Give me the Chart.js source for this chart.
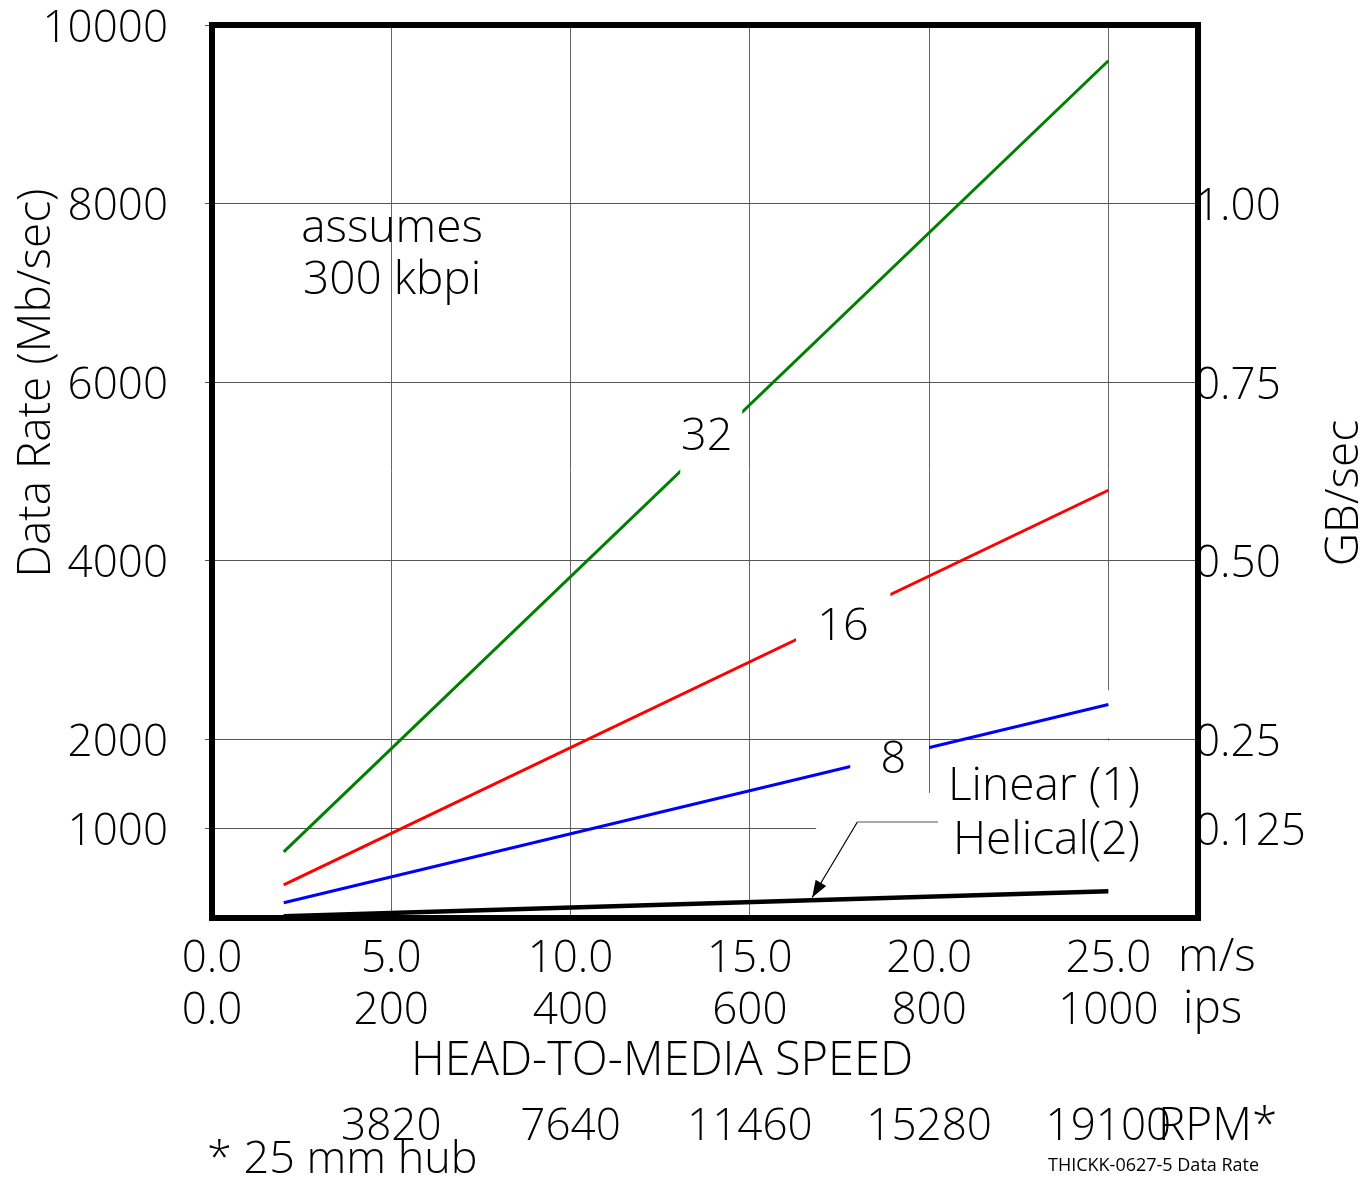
<!DOCTYPE html>
<html>
<head>
<meta charset="utf-8">
<script src="https://cdn.jsdelivr.net/npm/chart.js@4/dist/chart.umd.min.js"></script>
<style>
  body { margin: 0; background: #fff; }
  canvas { display: block; }
</style>
</head>
<body>
<canvas id="rateChart" width="1372" height="1183"></canvas>
<script>
// head-to-media speed (m/s) at start and end of each line
const speedMs = [2.0, 25.0];
const tracks32 = [740, 9600];
const tracks16 = [370, 4790];
const tracks8 = [170, 2390];
const helical = [20, 300];

const xTicks = [0, 5, 10, 15, 20, 25];
const msLabels = ["0.0", "5.0", "10.0", "15.0", "20.0", "25.0"];
const ipsLabels = ["0.0", "200", "400", "600", "800", "1000"];
const rpmLabels = ["", "3820", "7640", "11460", "15280", "19100"];
const leftTicks = [1000, 2000, 4000, 6000, 8000, 10000];
const rightTicks = [1000, 2000, 4000, 6000, 8000];
const gbLabels = ["0.125", "0.25", "0.50", "0.75", "1.00"];

// track-count labels sitting in a gap of their line
const lineLabels = [
  { text: "32", x: 13.8, y: 5380 },
  { text: "16", x: 17.6, y: 3260 },
  { text: "8", x: 19.0, y: 1770 }
];
const lineGaps = [[13.06, 14.79], [16.29, 18.92], [17.8, 20.0], null];

const FONT = '"Open Sans", "Noto Sans", sans-serif';
const font = (size) => "300 " + size + "px " + FONT;

const pts = (ys) => speedMs.map((x, i) => ({ x: x, y: ys[i] }));

const series = [
  { data: pts(tracks32), borderColor: "#008000", borderWidth: 3 },
  { data: pts(tracks16), borderColor: "#ff0000", borderWidth: 3 },
  { data: pts(tracks8), borderColor: "#0000ff", borderWidth: 3 },
  { data: pts(helical), borderColor: "#000000", borderWidth: 4.5 }
];

const extras = {
  id: "extras",
  beforeDatasetsDraw(chart) {
    const { ctx, chartArea: a, scales } = chart;
    const x = scales.x, y = scales.y;
    // grid lines hidden behind the legend text area
    ctx.save();
    ctx.fillStyle = "#fff";
    const gx = x.getPixelForValue(16.85), gy = y.getPixelForValue(1400);
    ctx.fillRect(gx, gy, a.right - gx, a.bottom - gy);
    const x25 = x.getPixelForValue(25);
    const y2k = y.getPixelForValue(2000), y25 = y.getPixelForValue(2550);
    ctx.fillRect(x25 - 3, y25, 6, y2k - 1 - y25);
    ctx.fillRect(x25 - 3, y2k + 1, 6, gy - y2k - 1);
    ctx.restore();
  },
  beforeDatasetDraw(chart, args) {
    const gap = lineGaps[args.index];
    if (!gap) return;
    const { ctx, chartArea: a, scales } = chart;
    const x0 = scales.x.getPixelForValue(gap[0]), x1 = scales.x.getPixelForValue(gap[1]);
    ctx.save();
    ctx.beginPath();
    ctx.rect(0, 0, chart.width, chart.height);
    ctx.rect(x0, a.top, x1 - x0, a.bottom - a.top);
    ctx.clip("evenodd");
  },
  afterDatasetDraw(chart, args) {
    if (lineGaps[args.index]) chart.ctx.restore();
  },
  afterDatasetsDraw(chart) {
    const { ctx, chartArea: a, scales } = chart;
    const x = scales.x, y = scales.y;
    ctx.save();
    ctx.strokeStyle = "#000";
    ctx.lineWidth = 6;
    ctx.strokeRect(a.left, a.top, a.right - a.left, a.bottom - a.top);

    // arrow pointing at the helical line
    const p0 = [x.getPixelForValue(20.25), y.getPixelForValue(1075)];
    const p1 = [x.getPixelForValue(18.0), y.getPixelForValue(1075)];
    const p2 = [x.getPixelForValue(16.74), y.getPixelForValue(230)];
    ctx.lineWidth = 1.2;
    ctx.strokeStyle = "#555";
    ctx.beginPath();
    ctx.moveTo(p0[0], p0[1]);
    ctx.lineTo(p1[0], p1[1]);
    ctx.stroke();
    ctx.strokeStyle = "#000";
    ctx.beginPath();
    ctx.moveTo(p1[0], p1[1]);
    ctx.lineTo(p2[0], p2[1]);
    ctx.stroke();
    const ang = Math.atan2(p2[1] - p1[1], p2[0] - p1[0]);
    ctx.fillStyle = "#000";
    ctx.beginPath();
    ctx.moveTo(p2[0], p2[1]);
    ctx.lineTo(p2[0] - 18 * Math.cos(ang - 0.35), p2[1] - 18 * Math.sin(ang - 0.35));
    ctx.lineTo(p2[0] - 18 * Math.cos(ang + 0.35), p2[1] - 18 * Math.sin(ang + 0.35));
    ctx.closePath();
    ctx.fill();
    ctx.restore();
  },
  afterDraw(chart) {
    const { ctx, scales } = chart;
    const x = scales.x, y = scales.y;
    ctx.save();
    ctx.fillStyle = "#000";
    ctx.textBaseline = "middle";
    ctx.textAlign = "center";
    ctx.font = font(45);
    lineLabels.forEach(l => ctx.fillText(l.text, x.getPixelForValue(l.x), y.getPixelForValue(l.y)));
    ctx.font = font(46);
    ctx.fillText("assumes", 392, 229);
    ctx.fillText("300 kbpi", 392, 281);
    ctx.font = font(47);
    ctx.fillText("HEAD-TO-MEDIA SPEED", 662, 1062);
    ctx.font = font(44);
    xTicks.forEach((v, i) => {
      if (rpmLabels[i]) ctx.fillText(rpmLabels[i], x.getPixelForValue(v), 1127);
    });
    ctx.textAlign = "left";
    ctx.font = font(46);
    ctx.fillText("Linear (1)", 948, 787);
    ctx.fillText("Helical(2)", 953, 841);
    ctx.fillText("m/s", 1178, 958);
    ctx.fillText("ips", 1183, 1010);
    ctx.fillText("RPM*", 1158, 1127);
    ctx.font = font(45);
    ctx.fillText("* 25 mm hub", 207, 1160);
    ctx.font = "18px " + FONT;
    ctx.fillText("THICKK-0627-5 Data Rate", 1048, 1166);

    ctx.font = font(46);
    ctx.textAlign = "center";
    ctx.translate(37, 383);
    ctx.rotate(-Math.PI / 2);
    ctx.fillText("Data Rate (Mb/sec)", 0, 0);
    ctx.setTransform(1, 0, 0, 1, 0, 0);
    ctx.translate(1345, 493);
    ctx.rotate(-Math.PI / 2);
    ctx.fillText("GB/sec", 0, 0);
    ctx.restore();
  }
};

new Chart(document.getElementById("rateChart"), {
  type: "line",
  data: {
    datasets: series.map(s => ({
      data: s.data,
      borderColor: s.borderColor,
      borderWidth: s.borderWidth,
      pointRadius: 0,
      tension: 0,
      fill: false,
      yAxisID: "y"
    }))
  },
  options: {
    responsive: false,
    animation: false,
    devicePixelRatio: 1,
    layout: { padding: { top: 25, left: 0, right: 0, bottom: 0 } },
    plugins: { legend: { display: false }, tooltip: { enabled: false } },
    scales: {
      x: {
        type: "linear",
        min: 0,
        max: 27.5,
        afterBuildTicks: s => { s.ticks = xTicks.map(v => ({ value: v })); },
        afterFit: s => { s.height = 265; s.paddingLeft = 0; s.paddingRight = 0; },
        ticks: {
          callback: (v, i) => [msLabels[i], ipsLabels[i]],
          font: { family: FONT, size: 44, weight: "300", lineHeight: 1.18 },
          color: "#000",
          maxRotation: 0,
          autoSkip: false,
          padding: 16
        },
        grid: { color: "#666", lineWidth: 1, drawTicks: false },
        border: { display: false }
      },
      y: {
        position: "left",
        min: 0,
        max: 10000,
        afterBuildTicks: s => { s.ticks = leftTicks.map(v => ({ value: v })); },
        afterFit: s => { s.width = 212; s.paddingTop = 0; s.paddingBottom = 0; },
        ticks: {
          callback: v => String(v),
          font: { family: FONT, size: 44, weight: "300", lineHeight: 1 },
          color: "#000",
          padding: 37,
          labelOffset: 4
        },
        grid: { color: "#555", lineWidth: 1, tickLength: 7 },
        border: { display: false }
      },
      y2: {
        position: "right",
        min: 0,
        max: 10000,
        afterBuildTicks: s => { s.ticks = rightTicks.map(v => ({ value: v })); },
        afterFit: s => { s.width = 174; s.paddingTop = 0; s.paddingBottom = 0; },
        ticks: {
          callback: (v, i) => gbLabels[i],
          font: { family: FONT, size: 44, weight: "300", lineHeight: 1 },
          color: "#000",
          padding: -3,
          labelOffset: 4
        },
        grid: { display: false, drawTicks: false },
        border: { display: false }
      }
    }
  },
  plugins: [extras]
});
</script>
</body>
</html>
